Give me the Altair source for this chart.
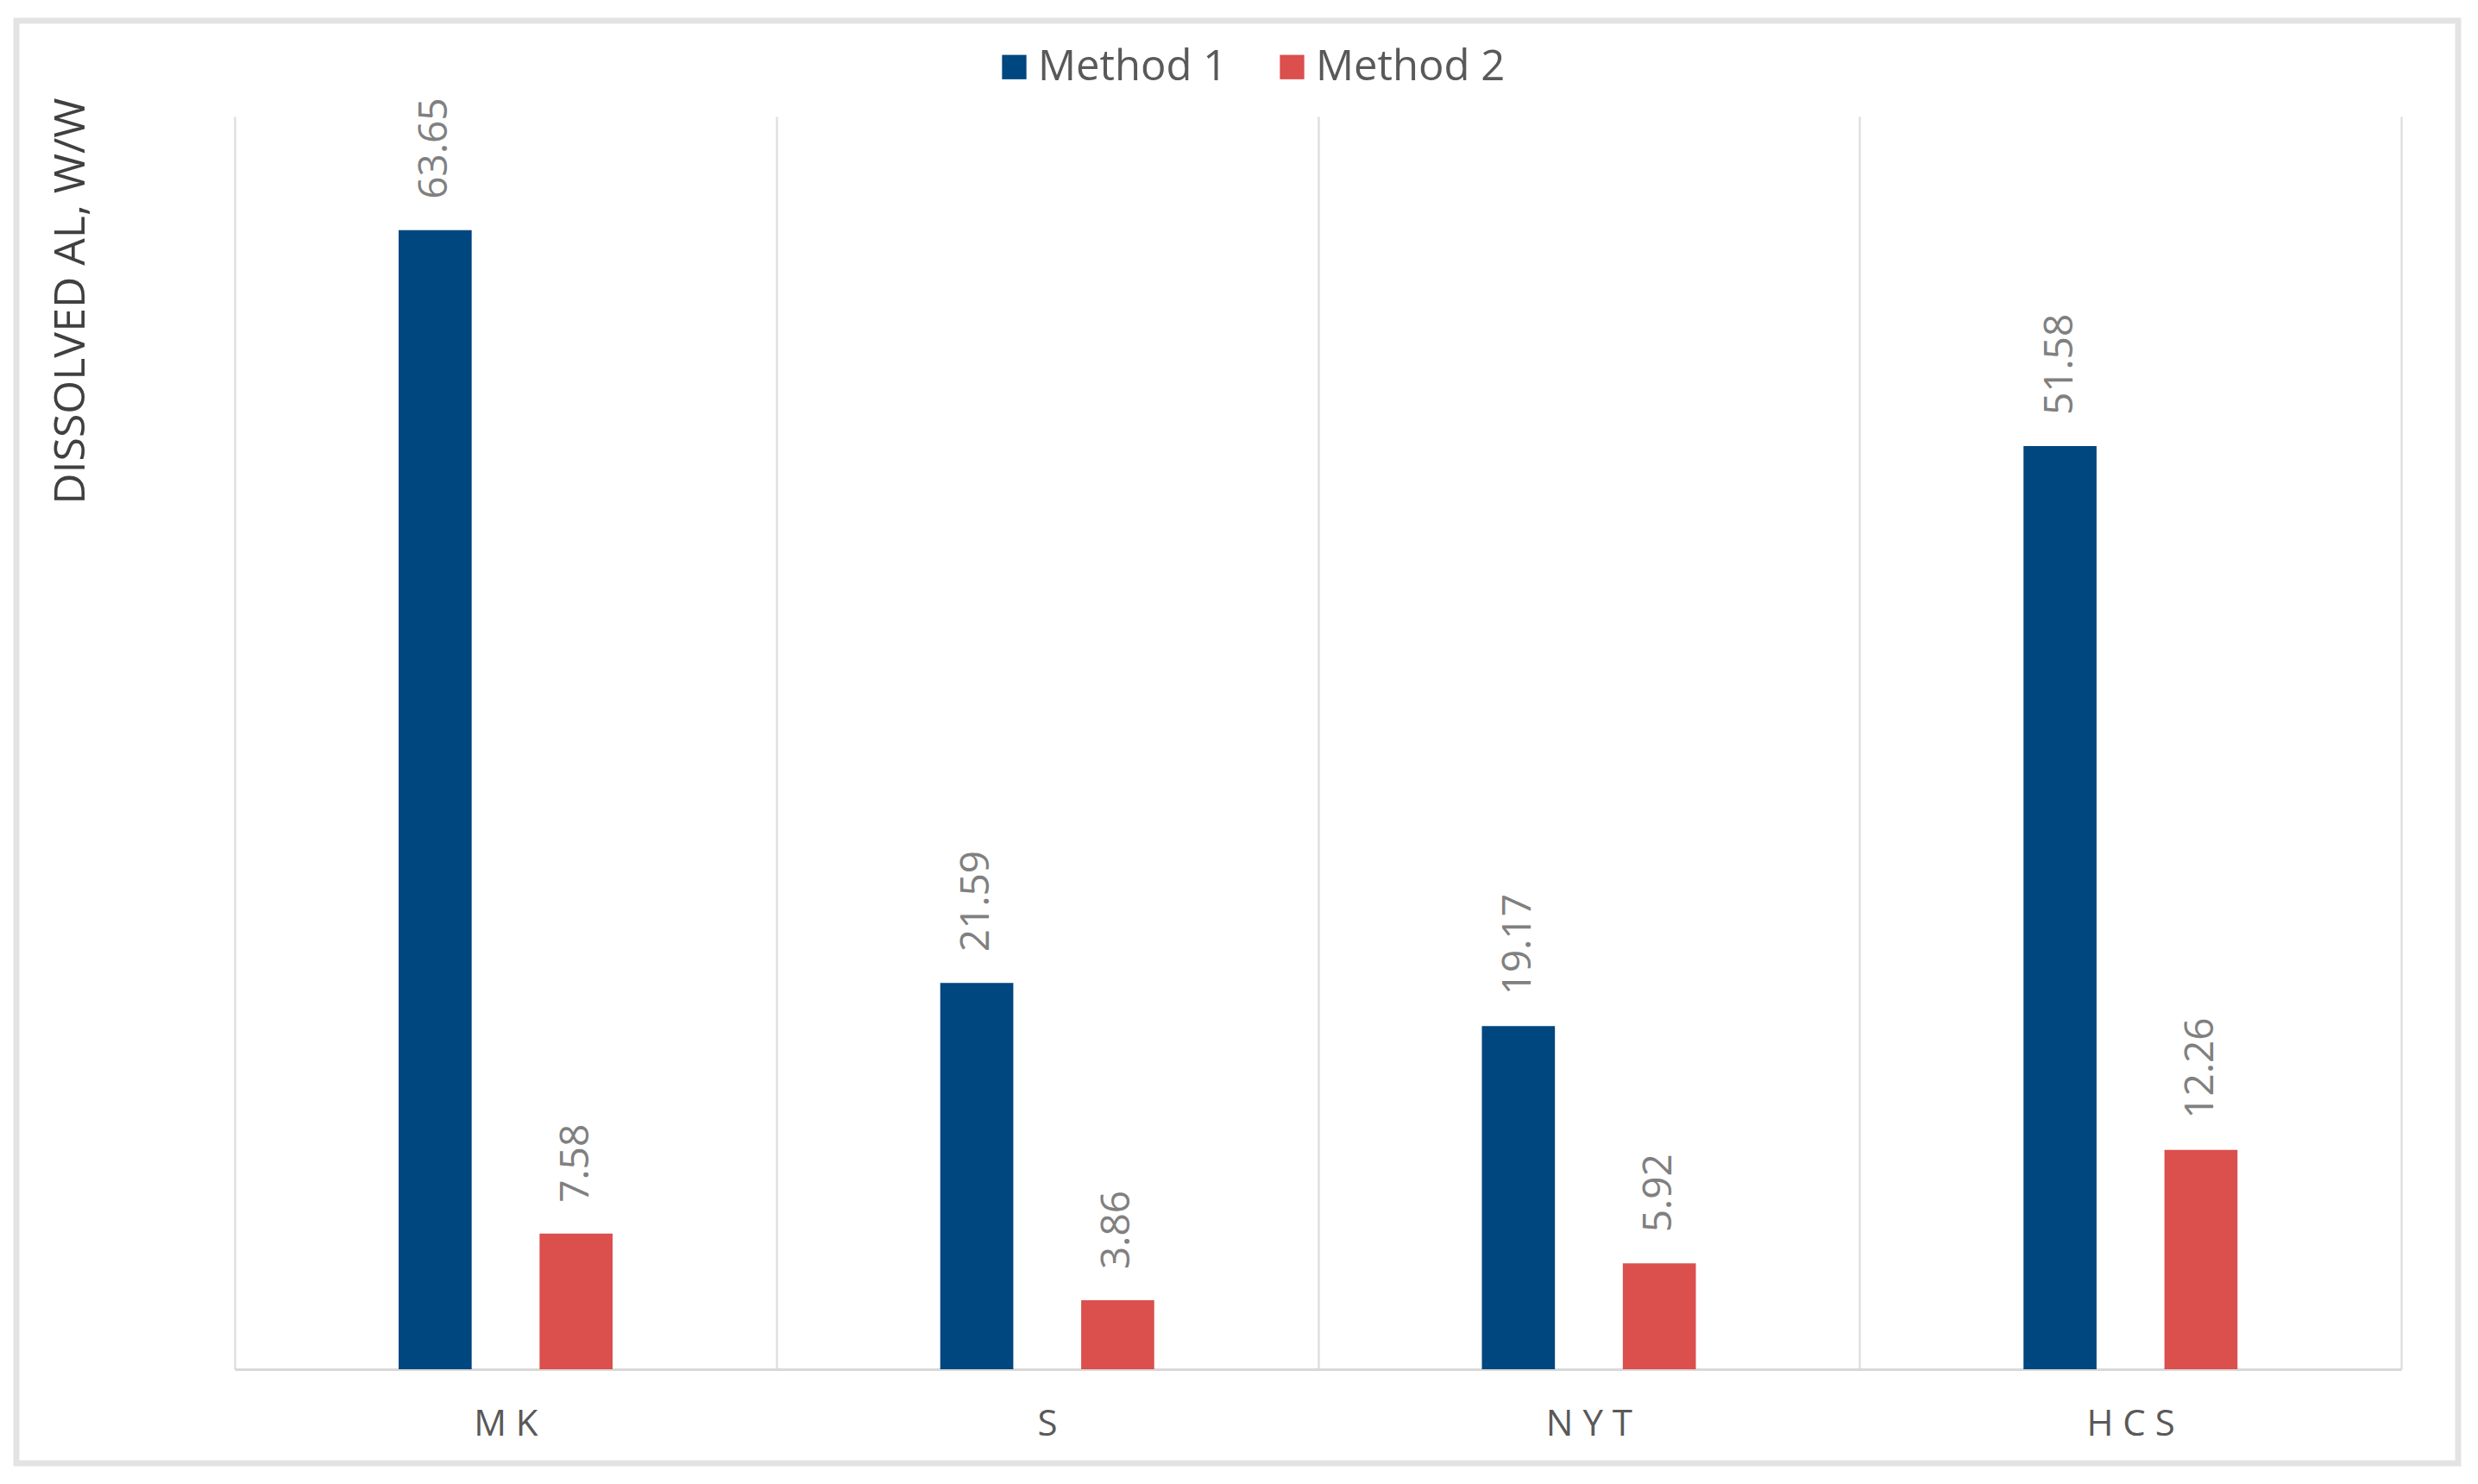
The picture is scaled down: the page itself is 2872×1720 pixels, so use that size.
import altair as alt
import pandas as pd

categories = ["MK", "S", "NYT", "HCS"]
methods = ["Method 1", "Method 2"]
method1 = [63.65, 21.59, 19.17, 51.58]
method2 = [7.58, 3.86, 5.92, 12.26]

rows = []
for c, a, b in zip(categories, method1, method2):
    rows.append({"cat": c, "method": "Method 1", "value": a})
    rows.append({"cat": c, "method": "Method 2", "value": b})
df = pd.DataFrame(rows)

FONT = "Open Sans"
W, H = 2511, 1452

x_enc = alt.X("cat:N", sort=categories, title=None,
              scale=alt.Scale(paddingInner=0, paddingOuter=0),
              axis=alt.Axis(tickBand="extent", grid=True, gridColor="#e0e0e0", gridWidth=2.5,
                            ticks=False, tickSize=0, domainColor="#d9d9d9", domainWidth=3,
                            labelAngle=0, labelFont=FONT, labelFontSize=42, labelColor="#595959",
                            labelPadding=63, labelBaseline="middle",
                            labelExpr="join(split(datum.label, ''), ' ')"))
off_scale = alt.Scale(range=[190, 438], paddingInner=0.4817, paddingOuter=0)
xoff = alt.XOffset("method:N", sort=methods, scale=off_scale)
y_enc = alt.Y("value:Q", scale=alt.Scale(domain=[0, 70], nice=False, zero=True),
              title="DISSOLVED AL, W/W",
              axis=alt.Axis(labels=False, ticks=False, domain=False, grid=False,
                            titleFont=FONT, titleFontSize=50, titleColor="#404040",
                            titleFontWeight="normal", titleAngle=270, titleAlign="right",
                            titleBaseline="middle", titleX=-190, titleY=-22))

bars = alt.Chart(df).mark_bar(strokeWidth=0).encode(
    x=x_enc,
    xOffset=xoff,
    y=y_enc,
    color=alt.Color("method:N", sort=methods,
                    scale=alt.Scale(domain=methods, range=["#00467F", "#DB4F4D"]),
                    legend=alt.Legend(title=None, orient="none", direction="horizontal",
                                      legendX=879, legendY=-82, symbolType="square",
                                      symbolSize=800, symbolStrokeWidth=0, labelOffset=3,
                                      columnPadding=50, labelFont=FONT, labelFontSize=49,
                                      labelLimit=0, labelColor="#595959")),
)

labels = alt.Chart(df).mark_text(angle=270, align="left", baseline="middle", dx=36,
                                 font=FONT, fontSize=46, color="#808080").encode(
    x=alt.X("cat:N", sort=categories),
    xOffset=alt.XOffset("method:N", sort=methods),
    y=alt.Y("value:Q"),
    text=alt.Text("value:Q", format=".2f"),
)

frame = alt.Chart(pd.DataFrame({"k": [0]})).mark_rect(
    fill=None, stroke="#e3e3e3", strokeWidth=7).encode(
    x=alt.value(-253), x2=alt.value(2577), y=alt.value(-111), y2=alt.value(1561))

chart = alt.layer(bars, labels, frame).properties(
    width=W, height=H,
    autosize=alt.AutoSizeParams(type="none"),
    padding={"left": 264, "top": 127, "right": 80, "bottom": 120},
    background="white",
).configure_view(stroke=None)

chart.save("out.html", embed_options={"renderer": "svg", "actions": False})
